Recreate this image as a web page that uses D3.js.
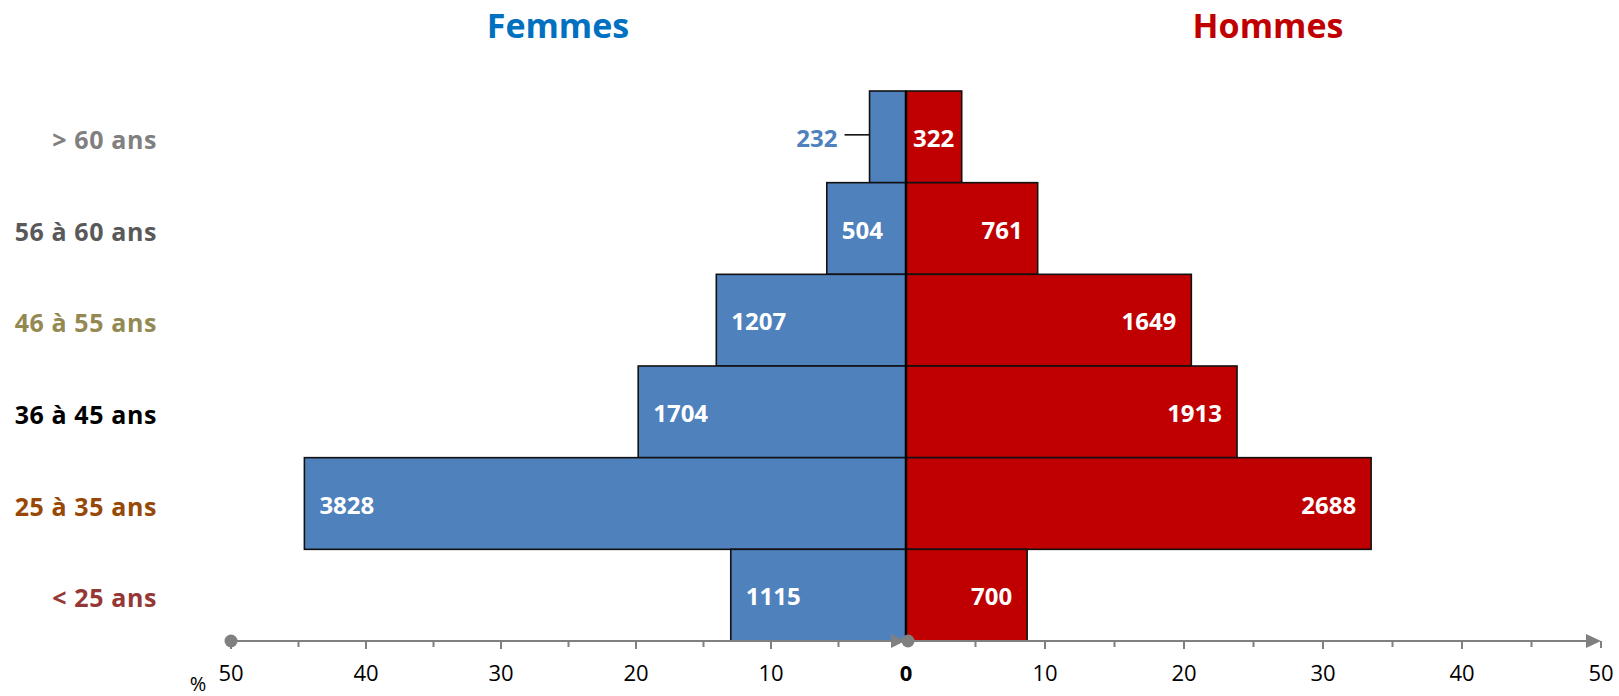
<!DOCTYPE html>
<html>
<head>
  <script src="https://cdnjs.cloudflare.com/ajax/libs/d3/7.8.5/d3.min.js"></script>
  <style>
    body { margin: 0; background: white; }
    svg { display: block; font-family: "Open Sans", sans-serif; }
    .title { font-size: 34px; font-weight: bold; text-anchor: middle; }
    .age-label { font-size: 25px; font-weight: bold; text-anchor: end; letter-spacing: 0.6px; }
    .val { font-size: 24px; font-weight: bold; fill: white; }
    .tick-label { font-size: 22px; fill: black; text-anchor: middle; }
  </style>
</head>
<body>
  <div id="chart"></div>
  <script>
    // age bands, top to bottom
    const ageGroups = ["> 60 ans", "56 à 60 ans", "46 à 55 ans", "36 à 45 ans", "25 à 35 ans", "< 25 ans"];
    const ageColors = ["#808080", "#595959", "#938953", "#000000", "#984806", "#953735"];
    const femmes = [232, 504, 1207, 1704, 3828, 1115];
    const hommes = [322, 761, 1649, 1913, 2688, 700];
    const axisTicks = [-50, -40, -30, -20, -10, 0, 10, 20, 30, 40, 50];
    const minorTicks = [-45, -35, -25, -15, -5, 5, 15, 25, 35, 45];

    const width = 1619, height = 696;
    const blue = "#4F81BD", red = "#C00000", axisGrey = "#808080";

    const svg = d3.select("#chart").append("svg")
      .attr("width", width).attr("height", height);

    const totalF = d3.sum(femmes), totalH = d3.sum(hommes);
    const pctF = femmes.map(v => v / totalF * 100);
    const pctH = hommes.map(v => v / totalH * 100);

    // two half axes meeting at zero
    const x = d3.scaleLinear().domain([-50, 0, 50]).range([231, 906, 1601]);
    const y = d3.scaleBand().domain(ageGroups).range([91, 641]).padding(0);
    const axisY = 641;

    // titles
    svg.append("text").attr("class", "title").attr("x", 558).attr("y", 38)
      .attr("fill", "#0070C0").text("Femmes");
    svg.append("text").attr("class", "title").attr("x", 1268).attr("y", 38)
      .attr("fill", "#C00000").text("Hommes");

    // age labels
    svg.selectAll(".age-label").data(ageGroups).enter().append("text")
      .attr("class", "age-label")
      .attr("x", 157)
      .attr("y", d => y(d) + y.bandwidth() / 2 + 12)
      .attr("fill", (d, i) => ageColors[i])
      .text(d => d);

    // bars
    svg.selectAll(".bar-f").data(pctF).enter().append("rect")
      .attr("class", "bar-f")
      .attr("x", d => x(-d)).attr("y", (d, i) => y(ageGroups[i]))
      .attr("width", d => x(0) - x(-d)).attr("height", y.bandwidth())
      .attr("fill", blue).attr("stroke", "#111").attr("stroke-width", 1.6);

    svg.selectAll(".bar-h").data(pctH).enter().append("rect")
      .attr("class", "bar-h")
      .attr("x", x(0)).attr("y", (d, i) => y(ageGroups[i]))
      .attr("width", d => x(d) - x(0)).attr("height", y.bandwidth())
      .attr("fill", red).attr("stroke", "#111").attr("stroke-width", 1.6);

    // centre line
    svg.append("line")
      .attr("x1", x(0)).attr("x2", x(0)).attr("y1", y.range()[0]).attr("y2", axisY)
      .attr("stroke", "black").attr("stroke-width", 2.5);

    // femmes values
    femmes.forEach((v, i) => {
      const cy = y(ageGroups[i]) + y.bandwidth() / 2 + 10;
      const left = x(-pctF[i]);
      if (x(0) - left < 60) {
        // too narrow: label outside with a leader line
        svg.append("text").attr("class", "val").attr("x", left - 32).attr("y", cy)
          .attr("text-anchor", "end").style("fill", blue).text(v);
        svg.append("line").attr("x1", left - 25).attr("x2", left)
          .attr("y1", cy - 12).attr("y2", cy - 12)
          .attr("stroke", "black").attr("stroke-width", 1.5);
      } else {
        svg.append("text").attr("class", "val").attr("x", left + 15).attr("y", cy).text(v);
      }
    });

    // hommes values
    hommes.forEach((v, i) => {
      const cy = y(ageGroups[i]) + y.bandwidth() / 2 + 10;
      const t = svg.append("text").attr("class", "val").attr("y", cy).text(v);
      const w = t.node().getComputedTextLength();
      const xs = Math.max(x(pctH[i]) - 15 - w, x(0) + 7);
      t.attr("x", xs);
    });

    // axis
    const axis = svg.append("g").attr("transform", `translate(0,${axisY})`);
    axis.append("line").attr("x1", x(-50)).attr("x2", x(50) - 10)
      .attr("stroke", axisGrey).attr("stroke-width", 2);

    axis.selectAll(".major").data(axisTicks.filter(d => d !== 0 && d !== 50)).enter().append("line")
      .attr("x1", d => x(d)).attr("x2", d => x(d)).attr("y1", 0).attr("y2", 8)
      .attr("stroke", axisGrey).attr("stroke-width", 2);
    axis.selectAll(".minor").data(minorTicks).enter().append("line")
      .attr("x1", d => x(d)).attr("x2", d => x(d)).attr("y1", 0).attr("y2", 6)
      .attr("stroke", axisGrey).attr("stroke-width", 2);
    axis.append("line").attr("x1", x(50)).attr("x2", x(50)).attr("y1", 0).attr("y2", 7)
      .attr("stroke", axisGrey).attr("stroke-width", 2);

    // end markers: dots at start, arrows at end
    axis.append("circle").attr("cx", x(-50)).attr("cy", 0).attr("r", 6.5).attr("fill", axisGrey);
    axis.append("path")
      .attr("d", `M${x(0) - 1},0 L${x(0) - 15},-7 L${x(0) - 15},7 Z`).attr("fill", axisGrey);
    axis.append("circle").attr("cx", x(0) + 2).attr("cy", 0).attr("r", 6.5).attr("fill", axisGrey);
    axis.append("path")
      .attr("d", `M${x(50)},0 L${x(50) - 15},-7 L${x(50) - 15},7 Z`).attr("fill", axisGrey);

    axis.selectAll(".tick-label").data(axisTicks).enter().append("text")
      .attr("class", "tick-label")
      .attr("x", d => x(d)).attr("y", 40)
      .style("font-weight", d => d === 0 ? "bold" : "normal")
      .text(d => Math.abs(d));

    svg.append("text").attr("x", 198).attr("y", 691).attr("text-anchor", "middle")
      .style("font-size", "20px").text("%");
  </script>
</body>
</html>
